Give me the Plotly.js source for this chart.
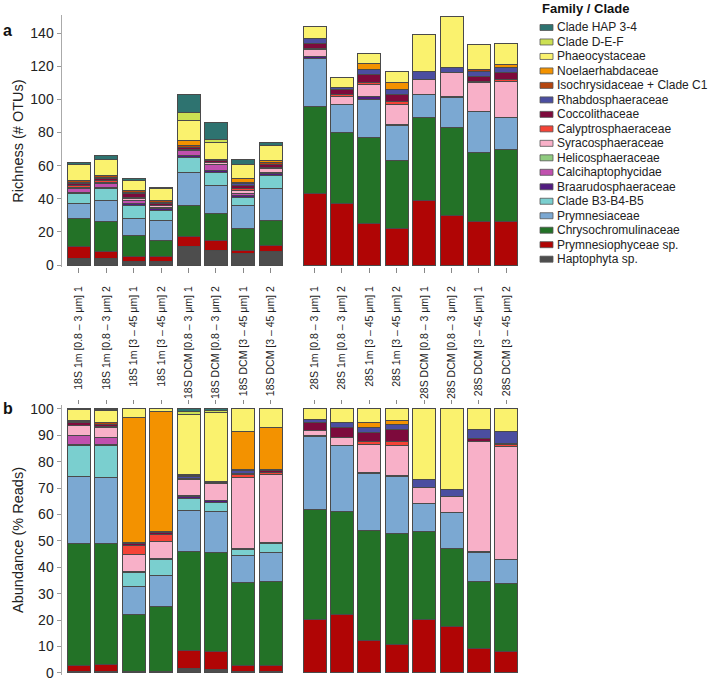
<!DOCTYPE html>
<html><head><meta charset="utf-8">
<script src="https://cdn.plot.ly/plotly-3.0.1.min.js"></script>
<style>body{margin:0;background:#fff}#chart{width:709px;height:681px}</style>
</head><body><div id="chart"></div>
<script>
// ---- sample labels (x categories) ----
const samples = [
  "18S 1m [0.8 – 3 μm] 1","18S 1m [0.8 – 3 μm] 2","18S 1m [3 – 45 μm] 1","18S 1m [3 – 45 μm] 2",
  "18S DCM [0.8 – 3 μm] 1","18S DCM [0.8 – 3 μm] 2","18S DCM [3 – 45 μm] 1","18S DCM [3 – 45 μm] 2",
  "28S 1m [0.8 – 3 μm] 1","28S 1m [0.8 – 3 μm] 2","28S 1m [3 – 45 μm] 1","28S 1m [3 – 45 μm] 2",
  "28S DCM [0.8 – 3 μm] 1","28S DCM [0.8 – 3 μm] 2","28S DCM [3 – 45 μm] 1","28S DCM [3 – 45 μm] 2"
];

// ---- families, stack order bottom -> top ----
const families = ["Haptophyta sp.","Prymnesiophyceae sp.","Chrysochromulinaceae","Prymnesiaceae",
  "Clade B3-B4-B5","Braarudosphaeraceae","Calcihaptophycidae","Helicosphaeraceae","Syracosphaeraceae",
  "Calyptrosphaeraceae","Coccolithaceae","Rhabdosphaeraceae","Isochrysidaceae + Clade C1",
  "Noelaerhabdaceae","Phaeocystaceae","Clade D-E-F","Clade HAP 3-4"];
const colors = ["#4d4d4d","#b00505","#237227","#7ba8d2","#7acfcf","#521c80","#c050ae","#8fcb7f","#f8b0c8",
  "#f44336","#7d0a3c","#4b4ea0","#b4450f","#f39200","#faf26e","#cce052","#2e7370"];

// ---- richness (# OTUs) per family, 16 samples ----
const rich_hapto    = [4,4,2,2,11,9,7,8, 0,0,0,0,0,0,0,0];
const rich_prymsp   = [7,4,3,3,6,6,2,4, 43,37,25,22,39,30,26,26];
const rich_chryso   = [17,18,13,10,19,16,13,15, 53,43,52,41,50,53,42,44];
const rich_prymnes  = [9,13,10,12,20,17,14,19, 29,17,23,21,14,18,25,19];
const rich_b3       = [6,7,8,6,9,8,5,8, 0,0,0,0,0,0,0,0];
const rich_braaru   = [1,1,1,1,1,1,1,1, 1,0,2,1,0,0,0,0];
const rich_calci    = [2,2,2,1,3,4,1,1, 0,0,0,0,0,0,0,0];
const rich_helico   = [0,0,0,0,0,0,0,0, 0,0,0,0,0,1,0,0];
const rich_syraco   = [1,1,1,1,1,1,2,2, 4,5,7,12,9,14,17,22];
const rich_calypt   = [1,1,1,0,0,0,1,1, 1,1,1,2,0,0,1,1];
const rich_cocco    = [1,1,2,1,1,1,2,2, 3,3,5,4,0,0,3,4];
const rich_rhabdo   = [1,1,1,1,0,0,1,0, 3,1,3,3,5,3,3,3];
const rich_isochry  = [1,1,1,1,1,1,1,1, 0,0,0,0,0,0,1,0];
const rich_noel     = [0,0,0,0,3,0,2,1, 0,0,4,4,0,0,0,2];
const rich_phaeo    = [10,10,6,7,12,10,9,9, 7,6,6,7,22,31,15,13];
const rich_def      = [0,0,0,0,5,2,0,0, 0,0,0,0,0,0,0,0];
const rich_hap34    = [1,2,1,1,11,10,3,2, 0,0,0,0,0,0,0,0];

// ---- abundance (% reads) per family, 16 samples ----
const ab_hapto   = [0.5,0.5,0.1,0.1,1.5,1.3,0.5,0.6, 0,0,0,0,0,0,0,0];
const ab_prymsp  = [2.4,2.7,0.5,0.3,7,6.9,2.3,2.3, 20.2,22,12.2,10.7,20.2,17.6,9.1,8.2];
const ab_chryso  = [46.3,46,21.5,24.6,37.6,37.6,31.3,31.8, 41.7,39,41.7,42.3,33.5,29.7,25.4,25.6];
const ab_prymnes = [25.3,25,10.7,12,15.5,15.4,10.5,10.8, 27.5,25.1,21.6,21.5,10.3,13.3,11.3,9.1];
const ab_b3      = [11.7,12,5.1,5.9,4.4,3.2,2.1,3.4, 0,0,0,0,0,0,0,0];
const ab_braaru  = [0.3,0.2,0.6,0.2,0.9,0.8,0.6,0.6, 0.5,0.2,0.3,0.3,0.2,0.2,0.2,0.1];
const ab_calci   = [3.4,2.6,0.1,0.1,0.2,0.2,0,0, 0,0,0,0,0,0,0,0];
const ab_helico  = [0,0,0,0,0,0,0,0, 0,0,0,0,0,0,0,0];
const ab_syraco  = [3.8,4,6.3,6.4,6.1,6.3,26.6,25.6, 1.8,2.7,10.7,11.3,6.1,6.1,41.5,42.9];
const ab_calypt  = [0.2,0.2,3.2,3,0.2,0.1,1.2,1, 0.1,0.1,1.3,1.7,0,0,0.2,0.6];
const ab_cocco   = [0.8,0.8,0.8,0.6,0.4,0.4,0.5,0.6, 3,4,3.1,4.4,0.1,0,1.1,0.6];
const ab_rhabdo  = [0.2,0.2,0.2,0.2,0.6,0.1,1.2,0.3, 1.2,1.6,1.9,1.9,2.9,2.5,3.4,4.4];
const ab_isochry = [0.5,0.6,0.2,0.3,0.5,0.2,0.2,0.2, 0,0,0.2,0.2,0,0,0,0.1];
const ab_noel    = [0.2,0.2,47.6,45.2,0.1,0.1,14.5,15.6, 0,0,1.8,1.3,0,0,0,0];
const ab_phaeo   = [4.1,4.5,3.1,1.1,23,26.1,8.5,7.2, 4,5.3,5.2,4.4,26.7,30.6,7.8,8.4];
const ab_def     = [0.1,0.2,0,0,1,0.7,0,0, 0,0,0,0,0,0,0,0];
const ab_hap34   = [0.2,0.3,0,0,1,0.6,0,0, 0,0,0,0,0,0,0,0];

const richness = [rich_hapto,rich_prymsp,rich_chryso,rich_prymnes,rich_b3,rich_braaru,rich_calci,rich_helico,
  rich_syraco,rich_calypt,rich_cocco,rich_rhabdo,rich_isochry,rich_noel,rich_phaeo,rich_def,rich_hap34];
const abundance = [ab_hapto,ab_prymsp,ab_chryso,ab_prymnes,ab_b3,ab_braaru,ab_calci,ab_helico,
  ab_syraco,ab_calypt,ab_cocco,ab_rhabdo,ab_isochry,ab_noel,ab_phaeo,ab_def,ab_hap34];

// positions: two groups of 8 with a gap
const xpos = samples.map((s,i) => i + (i >= 8 ? 0.6 : 0));

const lineStyle = {color:'#4a4a4a', width:1};
const traces = [];
families.forEach((f,i) => {
  traces.push({type:'bar', name:f, x:xpos, y:richness[i], xaxis:'x', yaxis:'y',
    marker:{color:colors[i], line:lineStyle}, showlegend:false, hoverinfo:'name+y'});
  traces.push({type:'bar', name:f, x:xpos, y:abundance[i], xaxis:'x2', yaxis:'y2',
    marker:{color:colors[i], line:lineStyle}, showlegend:false, hoverinfo:'name+y'});
});

// pixel -> paper helpers (plot area: x 62..525, y 10..675)
const L=62, R=184, T=10, B=6, W=709, H=681;
const pw = W-L-R, ph = H-T-B;
const px2x = p => (p - L)/pw;
const px2y = p => (H - B - p)/ph;

const annotations = [
  {text:'<b>a</b>', xref:'paper', yref:'paper', x:px2x(1), y:px2y(31), xanchor:'left', yanchor:'middle', showarrow:false, font:{size:16, color:'#111'}},
  {text:'<b>b</b>', xref:'paper', yref:'paper', x:px2x(1), y:px2y(408), xanchor:'left', yanchor:'middle', showarrow:false, font:{size:16, color:'#111'}},
  {text:'<b>Family / Clade</b>', xref:'paper', yref:'paper', x:px2x(540), y:px2y(9), xanchor:'left', yanchor:'middle', showarrow:false, font:{size:13, color:'#111'}}
];
const shapes = [];
// legend, top -> bottom = reverse stack order
const legendOrder = families.map((f,i)=>i).reverse();
legendOrder.forEach((fi,k) => {
  const cy = 27.5 + k*14.48;
  shapes.push({type:'rect', xref:'paper', yref:'paper', x0:px2x(540), x1:px2x(553), y0:px2y(cy-3), y1:px2y(cy+3),
    fillcolor:colors[fi], line:{color:'#555', width:0.8}});
  annotations.push({text:families[fi], xref:'paper', yref:'paper', x:px2x(555), y:px2y(cy), xanchor:'left', yanchor:'middle',
    showarrow:false, font:{size:12, color:'#222'}});
});

const axFont = {family:'Liberation Sans, Arial, sans-serif', size:14, color:'#222'};
const layout = {
  width:W, height:H,
  margin:{l:L, r:R, t:T, b:B},
  barmode:'stack', bargap:0.16,
  showlegend:false,
  paper_bgcolor:'#fff', plot_bgcolor:'#fff',
  font:{family:'Liberation Sans, Arial, sans-serif', color:'#222'},
  xaxis:{anchor:'y', domain:[0,1], range:[-0.62,16.28], tickmode:'array', tickvals:xpos, ticktext:samples,
    tickangle:-90, ticks:'outside', ticklen:5, tickcolor:'#888', tickwidth:1, ticklabelstandoff:9,
    showline:false, showgrid:false, zeroline:false, tickfont:{family:'Liberation Sans, Arial, sans-serif', size:10.5, color:'#222'}},
  yaxis:{anchor:'x', domain:[px2y(267), px2y(15)], range:[-1.2,151], tickmode:'array', tickvals:[0,20,40,60,80,100,120,140],
    ticks:'outside', ticklen:4, tickcolor:'#999', showline:true, linecolor:'#aaa', linewidth:1.5,
    showgrid:false, zeroline:false, tickfont:axFont,
    title:{text:'Richness (# OTUs)', font:{family:'Liberation Sans, Arial, sans-serif', size:14.5, color:'#222'}, standoff:3}},
  xaxis2:{anchor:'y2', side:'top', domain:[0,1], range:[-0.62,16.28], tickmode:'array', tickvals:xpos,
    showticklabels:false, ticks:'outside', ticklen:4, tickcolor:'#888', showline:false, showgrid:false, zeroline:false},
  yaxis2:{anchor:'x2', domain:[0, px2y(405)], range:[-0.8,101.5], tickmode:'array', tickvals:[0,10,20,30,40,50,60,70,80,90,100],
    ticks:'outside', ticklen:4, tickcolor:'#999', showline:true, linecolor:'#aaa', linewidth:1.5,
    showgrid:false, zeroline:false, tickfont:axFont,
    title:{text:'Abundance (% Reads)', font:{family:'Liberation Sans, Arial, sans-serif', size:14.5, color:'#222'}, standoff:3}},
  annotations:annotations,
  shapes:shapes
};
Plotly.newPlot('chart', traces, layout, {displayModeBar:false, staticPlot:true});
</script></body></html>
